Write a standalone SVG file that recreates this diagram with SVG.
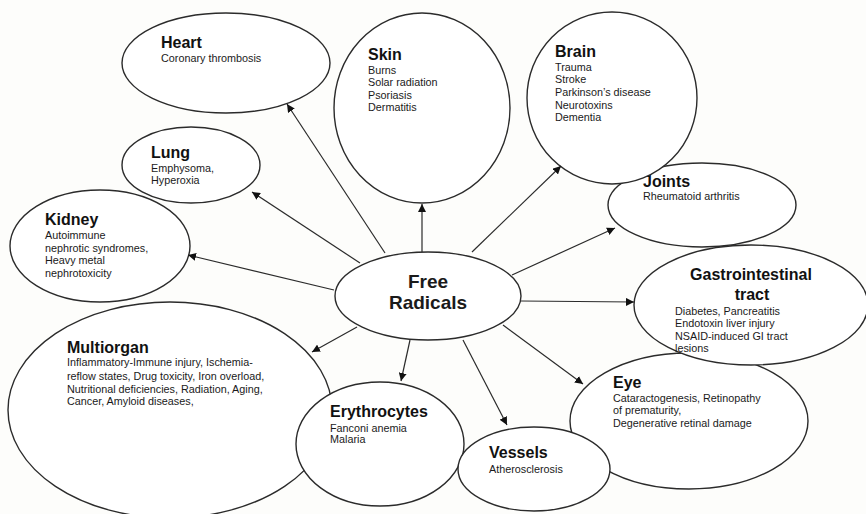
<svg xmlns="http://www.w3.org/2000/svg" width="866" height="514" viewBox="0 0 866 514">
<style>
.n{fill:#ffffff;stroke:#2b2b2b;stroke-width:1.4}
.t{font-family:"Liberation Sans",Arial,sans-serif;font-weight:bold;font-size:16px;fill:#111}
.b{font-family:"Liberation Sans",Arial,sans-serif;font-size:10.8px;fill:#1a1a1a}
.c line{stroke:#2b2b2b;stroke-width:1.2;marker-end:url(#ah)}
.fr{font-family:"Liberation Sans",Arial,sans-serif;font-weight:bold;font-size:19px;fill:#1a1a1a;text-anchor:middle}
</style>
<defs>
<marker id="ah" viewBox="0 0 10 10" refX="10" refY="5" markerWidth="8" markerHeight="8" markerUnits="userSpaceOnUse" orient="auto">
<path d="M0,0 L10,5 L0,10 z" fill="#111"/>
</marker>
</defs>
<rect width="866" height="514" fill="#fdfdfb"/>
<g id="multiorgan">
<ellipse class="n" cx="170" cy="410" rx="162" ry="108"/>
<text class="t" x="67" y="353">Multiorgan</text>
<text class="b" x="67" y="366">Inflammatory-Immune injury, Ischemia-</text>
<text class="b" x="67" y="380">reflow states, Drug toxicity, Iron overload,</text>
<text class="b" x="67" y="393">Nutritional deficiencies, Radiation, Aging,</text>
<text class="b" x="67" y="405">Cancer, Amyloid diseases,</text>
</g>
<g id="erythrocytes">
<ellipse class="n" cx="380" cy="444" rx="84" ry="62"/>
<text class="t" x="330" y="417">Erythrocytes</text>
<text class="b" x="330" y="432">Fanconi anemia</text>
<text class="b" x="330" y="443">Malaria</text>
</g>
<g id="eye">
<ellipse class="n" cx="689" cy="421" rx="119" ry="68"/>
<text class="t" x="613" y="388">Eye</text>
<text class="b" x="613" y="402">Cataractogenesis, Retinopathy</text>
<text class="b" x="613" y="414">of prematurity,</text>
<text class="b" x="613" y="427">Degenerative retinal damage</text>
</g>
<g id="vessels">
<ellipse class="n" cx="534" cy="469" rx="76" ry="42"/>
<text class="t" x="489" y="458">Vessels</text>
<text class="b" x="489" y="473">Atherosclerosis</text>
</g>
<g id="heart">
<ellipse class="n" cx="226" cy="63" rx="104" ry="50"/>
<text class="t" x="161" y="48">Heart</text>
<text class="b" x="161" y="62">Coronary thrombosis</text>
</g>
<g id="skin">
<ellipse class="n" cx="422" cy="108" rx="88" ry="95"/>
<text class="t" x="368" y="60">Skin</text>
<text class="b" x="368" y="74">Burns</text>
<text class="b" x="368" y="86">Solar radiation</text>
<text class="b" x="368" y="99">Psoriasis</text>
<text class="b" x="368" y="111">Dermatitis</text>
</g>
<g id="joints">
<ellipse class="n" cx="702" cy="205" rx="94" ry="42"/>
<text class="t" x="643" y="187">Joints</text>
<text class="b" x="643" y="200">Rheumatoid arthritis</text>
</g>
<g id="brain">
<ellipse class="n" cx="612" cy="98" rx="85" ry="86"/>
<text class="t" x="555" y="57">Brain</text>
<text class="b" x="555" y="71">Trauma</text>
<text class="b" x="555" y="83">Stroke</text>
<text class="b" x="555" y="96">Parkinson’s disease</text>
<text class="b" x="555" y="109">Neurotoxins</text>
<text class="b" x="555" y="121">Dementia</text>
</g>
<g id="lung">
<ellipse class="n" cx="191" cy="165" rx="69" ry="38"/>
<text class="t" x="151" y="158">Lung</text>
<text class="b" x="151" y="172">Emphysoma,</text>
<text class="b" x="151" y="184">Hyperoxia</text>
</g>
<g id="kidney">
<ellipse class="n" cx="100" cy="246" rx="90" ry="56"/>
<text class="t" x="45" y="225">Kidney</text>
<text class="b" x="45" y="239">Autoimmune</text>
<text class="b" x="45" y="252">nephrotic syndromes,</text>
<text class="b" x="45" y="264">Heavy metal</text>
<text class="b" x="45" y="277">nephrotoxicity</text>
</g>
<g id="gastrointestinal">
<ellipse class="n" cx="751" cy="305" rx="117" ry="60"/>
<text class="t" x="751" y="280" text-anchor="middle">Gastrointestinal</text>
<text class="t" x="752" y="300" text-anchor="middle">tract</text>
<text class="b" x="675" y="315">Diabetes, Pancreatitis</text>
<text class="b" x="675" y="327">Endotoxin liver injury</text>
<text class="b" x="675" y="340">NSAID-induced GI tract</text>
<text class="b" x="675" y="352">lesions</text>
</g>
<g id="connectors" class="c">
<line x1="385" y1="253" x2="287" y2="104"/>
<line x1="422" y1="252" x2="422" y2="204"/>
<line x1="472" y1="252" x2="561" y2="166"/>
<line x1="360" y1="263" x2="252" y2="192"/>
<line x1="334" y1="290" x2="188" y2="255"/>
<line x1="512" y1="275" x2="615" y2="228"/>
<line x1="521" y1="301" x2="634" y2="302"/>
<line x1="503" y1="325" x2="583" y2="384"/>
<line x1="463" y1="340" x2="507" y2="425"/>
<line x1="410" y1="340" x2="401" y2="381"/>
<line x1="357" y1="327" x2="312" y2="352"/>
</g>
<g id="free-radicals">
<ellipse class="n" cx="428" cy="296" rx="93" ry="44"/>
<text class="fr" x="428" y="288">Free</text>
<text class="fr" x="428" y="309">Radicals</text>
</g>
</svg>
